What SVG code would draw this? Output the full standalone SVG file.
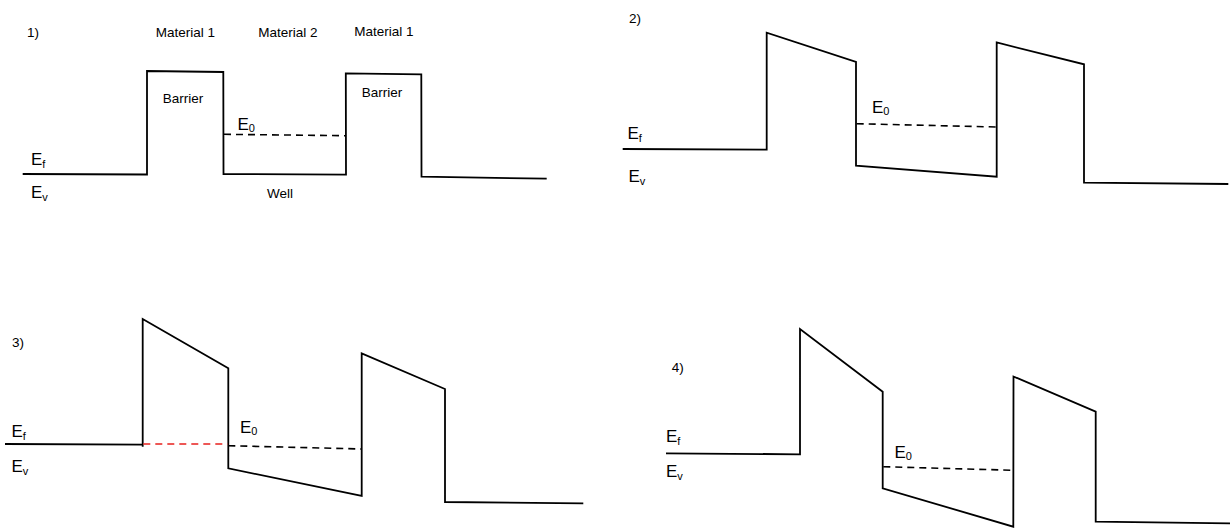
<svg xmlns="http://www.w3.org/2000/svg" width="1230" height="528" viewBox="0 0 1230 528">
<style>
.band{fill:none;stroke:#000;stroke-width:1.8;stroke-linejoin:miter}
.lvl{fill:none;stroke:#000;stroke-width:1.6;stroke-dasharray:7 5}
.red{stroke:#e8201e}
.t{font-family:"Liberation Sans",Arial,sans-serif;font-size:13.5px;fill:#000}
.m{text-anchor:middle}
.e{font-family:"Liberation Sans",Arial,sans-serif;font-size:17px;fill:#000}
.s{font-size:11px}
</style>
<rect width="1230" height="528" fill="#fff"/>
<g id="panel1">
<path class="band" d="M22.7,174 L147,174.5 L147,71 L223.3,72 L223.5,174 L346,174.7 L345.8,73.3 L421.3,74.3 L421.5,176.7 L546.7,178.7"/>
<path class="lvl" d="M224,134.3 L346,135.7"/>
<text class="t" x="27" y="37">1)</text>
<text class="t m" x="185.5" y="36.5">Material 1</text>
<text class="t m" x="288" y="36.5">Material 2</text>
<text class="t m" x="384" y="36">Material 1</text>
<text class="t m" x="183" y="102.5">Barrier</text>
<text class="t m" x="382" y="97">Barrier</text>
<text class="t m" x="280" y="197.5">Well</text>
<text class="e" x="31" y="164.5">E<tspan class="s" dy="3">f</tspan></text>
<text class="e" x="31" y="198">E<tspan class="s" dy="3">v</tspan></text>
<text class="e" x="237.5" y="129.5">E<tspan class="s" dy="2">0</tspan></text>
</g>
<g id="panel2">
<path class="band" d="M622.7,149 L766.7,149.7 L766.7,32.7 L856,62 L856,165.7 L996.7,176.7 L996.7,42.5 L1084,64.3 L1084,182.7 L1228.3,184"/>
<path class="lvl" d="M856.7,123.7 L996.7,127"/>
<text class="t" x="629" y="22.5">2)</text>
<text class="e" x="627.5" y="138.5">E<tspan class="s" dy="3">f</tspan></text>
<text class="e" x="628.5" y="182">E<tspan class="s" dy="3">v</tspan></text>
<text class="e" x="872" y="112.5">E<tspan class="s" dy="2">0</tspan></text>
</g>
<g id="panel3">
<path class="band" d="M5,444 L142.7,444.7 M142.7,446.7 L142.7,319 L228.3,368.3 L228.3,468.3 L361.7,496 L361.7,353.3 L445,389 L445,502 L583.3,503.3"/>
<path class="lvl red" d="M143.3,444 L227.7,444"/>
<path class="lvl" d="M228.3,445.7 L361.7,449"/>
<text class="t" x="12" y="347">3)</text>
<text class="e" x="11.5" y="437">E<tspan class="s" dy="3">f</tspan></text>
<text class="e" x="11.5" y="472">E<tspan class="s" dy="3">v</tspan></text>
<text class="e" x="240" y="433">E<tspan class="s" dy="2">0</tspan></text>
</g>
<g id="panel4">
<path class="band" d="M666,453.3 L800,454.3 L800,329 L882.7,391.7 L882.7,488.3 L1013.3,526.7 L1013.5,376.5 L1095.7,411.7 L1095.7,521.7 L1230,523.3"/>
<path class="lvl" d="M883.3,466.7 L1014,470.3"/>
<text class="t" x="671.7" y="371.5">4)</text>
<text class="e" x="666" y="442">E<tspan class="s" dy="3">f</tspan></text>
<text class="e" x="666" y="476.5">E<tspan class="s" dy="3">v</tspan></text>
<text class="e" x="894.5" y="457.5">E<tspan class="s" dy="2">0</tspan></text>
</g>
</svg>
